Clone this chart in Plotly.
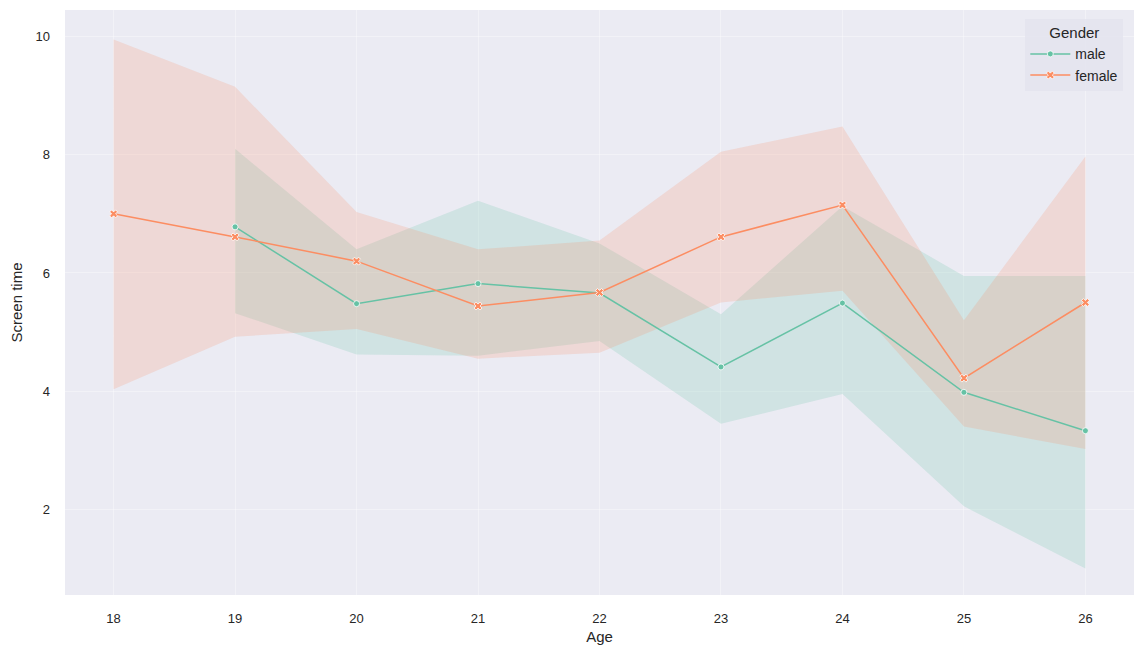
import plotly.graph_objects as go

# data
ages_female = [18, 19, 20, 21, 22, 23, 24, 25, 26]
female_mean = [7.00, 6.61, 6.20, 5.44, 5.67, 6.61, 7.15, 4.22, 5.50]
female_hi = [9.95, 9.15, 7.03, 6.40, 6.55, 8.05, 8.48, 5.20, 7.97]
female_lo = [4.03, 4.92, 5.05, 4.55, 4.65, 5.50, 5.70, 3.40, 3.02]

ages_male = [19, 20, 21, 22, 23, 24, 25, 26]
male_mean = [6.78, 5.48, 5.82, 5.66, 4.41, 5.49, 3.98, 3.33]
male_hi = [8.10, 6.40, 7.22, 6.50, 5.30, 7.13, 5.95, 5.95]
male_lo = [5.32, 4.62, 4.60, 4.85, 3.45, 3.95, 2.05, 1.00]

x_ticks = [18, 19, 20, 21, 22, 23, 24, 25, 26]
y_ticks = [2, 4, 6, 8, 10]

MALE = "#66c2a5"
FEMALE = "#fc8d62"

fig = go.Figure()

# confidence bands
for xs, hi, lo, fill in [
    (ages_male, male_hi, male_lo, "rgba(102,194,165,0.2)"),
    (ages_female, female_hi, female_lo, "rgba(252,141,98,0.2)"),
]:
    fig.add_trace(go.Scatter(x=xs, y=hi, mode="lines", line=dict(width=0),
                             showlegend=False, hoverinfo="skip"))
    fig.add_trace(go.Scatter(x=xs, y=lo, mode="lines", line=dict(width=0),
                             fill="tonexty", fillcolor=fill,
                             showlegend=False, hoverinfo="skip"))

# mean lines
fig.add_trace(go.Scatter(
    x=ages_male, y=male_mean, mode="lines+markers", name="male",
    line=dict(color=MALE, width=1.5),
    marker=dict(symbol="circle", size=6, color=MALE, line=dict(color="white", width=0.8)),
))
fig.add_trace(go.Scatter(
    x=ages_female, y=female_mean, mode="lines+markers", name="female",
    line=dict(color=FEMALE, width=1.5),
    marker=dict(symbol="x", size=7, color=FEMALE, line=dict(color="white", width=0.8)),
))

fig.update_layout(
    width=1144, height=648,
    margin=dict(l=57, r=18, t=2, b=61),
    paper_bgcolor="white",
    plot_bgcolor="#ebebf3",
    font=dict(family="Liberation Sans, Arial, sans-serif", size=13, color="#262626"),
    showlegend=True,
    legend=dict(
        title=dict(text="Gender", font=dict(size=15), side="top center"),
        traceorder="normal",
        x=0.99, y=0.985, xanchor="right", yanchor="top",
        bgcolor="rgba(228,228,238,0.9)", borderwidth=0,
        font=dict(size=14), itemwidth=40,
    ),
    xaxis=dict(
        title=dict(text="Age", font=dict(size=15), standoff=6),
        range=[17.6, 26.4], tickvals=x_ticks, ticktext=[str(t) for t in x_ticks],
        showgrid=True, gridcolor="rgba(255,255,255,0.35)", gridwidth=1,
        zeroline=False, showline=False, ticks="", ticklabelstandoff=14,
        automargin=False,
    ),
    yaxis=dict(
        title=dict(text="Screen time", font=dict(size=15), standoff=12),
        range=[0.55, 10.45], tickvals=y_ticks, ticktext=[str(t) for t in y_ticks],
        showgrid=True, gridcolor="rgba(255,255,255,0.35)", gridwidth=1,
        zeroline=False, showline=False, ticks="", ticklabelstandoff=14,
        automargin=False,
    ),
)

fig.write_html("out.html")
